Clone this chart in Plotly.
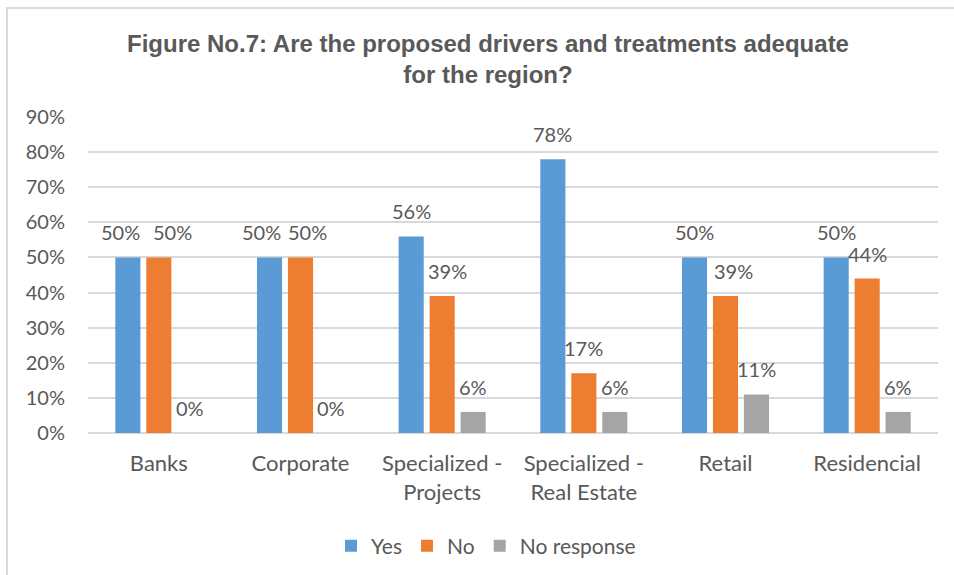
import plotly.graph_objects as go

# Survey answers per portfolio segment (percent of respondents)
categories = ["Banks", "Corporate", "Specialized -<br>Projects",
              "Specialized -<br>Real Estate", "Retail", "Residencial"]
yes_pct = [50, 50, 56, 78, 50, 50]
no_pct = [50, 50, 39, 17, 39, 44]
no_response_pct = [0, 0, 6, 6, 11, 6]

series_names = ["Yes", "No", "No response"]
series_values = [yes_pct, no_pct, no_response_pct]
series_colors = ["#5B9BD5", "#ED7D31", "#A5A5A5"]

# small horizontal nudges (px) for labels that would otherwise collide
label_nudge = {
    (0, 0): -7, (0, 1): 14,
    (1, 0): -8, (1, 1): 7,
    (2, 1): 5,
    (4, 1): 8,
}

TEXT = "#595959"
GRID = "#D9D9D9"
FONT = "Lato"
BARGAP = 0.344
BARGROUPGAP = 0.19

x_idx = list(range(len(categories)))

fig = go.Figure()
for name, vals, color in zip(series_names, series_values, series_colors):
    fig.add_trace(go.Bar(
        name=name, x=x_idx, y=[v / 100 for v in vals],
        marker=dict(color=color, line=dict(width=0)),
        hoverinfo="skip",
    ))

# value labels above each bar, positioned by the group layout
slot = (1 - BARGAP) / len(series_names)
annotations = []
for k, vals in enumerate(series_values):
    for i, v in enumerate(vals):
        annotations.append(dict(
            x=i + (k - (len(series_names) - 1) / 2) * slot, y=v / 100,
            xref="x", yref="y", text=f"{v}%", showarrow=False,
            yanchor="middle", xanchor="center", yshift=25,
            xshift=label_nudge.get((i, k), 0),
            font=dict(family=FONT, size=20, color=TEXT),
        ))

fig.update_layout(
    width=954, height=575,
    margin=dict(l=88, r=16, t=117, b=142, autoexpand=False),
    paper_bgcolor="white", plot_bgcolor="white",
    barmode="group", bargap=BARGAP, bargroupgap=BARGROUPGAP,
    title=dict(
        text="Figure No.7: Are the proposed drivers and treatments adequate<br>for the region?",
        x=488 / 954, xanchor="center", xref="container",
        y=1 - 52 / 575, yanchor="middle", yref="container",
        font=dict(family="Liberation Sans", size=24, color=TEXT, weight="bold"),
    ),
    xaxis=dict(
        range=[-0.5, len(categories) - 0.5],
        tickmode="array", tickvals=x_idx, ticktext=categories,
        showgrid=False, zeroline=False, showline=False, ticks="",
        ticklabelstandoff=15,
        tickfont=dict(family=FONT, size=22, color=TEXT),
    ),
    yaxis=dict(
        range=[0, 0.9], tickmode="array",
        tickvals=[t / 100 for t in range(0, 100, 10)], tickformat=".0%",
        showgrid=True, gridcolor=GRID, gridwidth=1.5,
        zeroline=True, zerolinecolor=GRID, zerolinewidth=2,
        showline=False, ticks="", ticklabelstandoff=22,
        tickfont=dict(family=FONT, size=20, color=TEXT),
    ),
    legend=dict(
        orientation="h", x=486 / 954, xanchor="center", xref="container",
        y=1 - 546 / 575, yanchor="middle", yref="container",
        font=dict(family=FONT, size=21, color=TEXT),
        itemwidth=30, traceorder="normal",
    ),
    annotations=annotations,
    shapes=[dict(
        type="rect", xref="paper", yref="paper",
        x0=(7 - 88) / 850, x1=(970 - 88) / 850,
        y0=(433 - 600) / 316, y1=(433 - 8) / 316,
        line=dict(color=GRID, width=2), fillcolor="rgba(0,0,0,0)",
        layer="below",
    )],
)

fig.write_html("out.html")
